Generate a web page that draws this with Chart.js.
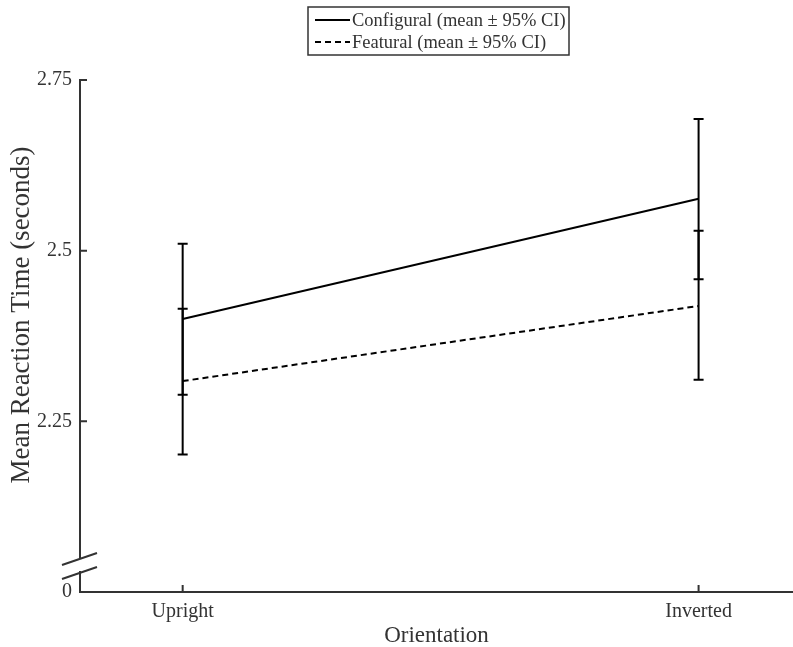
<!DOCTYPE html>
<html>

<head>
    <title>Reaction time by orientation</title>
    <script src="https://cdn.jsdelivr.net/npm/chart.js@4.4.1/dist/chart.umd.min.js"></script>
    <style>
        body { margin: 0; background: #fff; }
    </style>
</head>

<body>
    <canvas id="rt" width="793" height="647"></canvas>
    <script>

        // conditions along the x axis
        const orientations = ['Upright', 'Inverted'];
        const xPos = [1, 2];

        // mean reaction time (s) and 95% CI bounds
        const configuralMean = [2.400, 2.576];
        const configuralLow = [2.289, 2.458];
        const configuralHigh = [2.510, 2.693];

        const featuralMean = [2.309, 2.419];
        const featuralLow = [2.2015, 2.311];
        const featuralHigh = [2.415, 2.529];

        // axis is broken: the bottom value 2.0 stands for 0
        const yTicks = [2.0, 2.25, 2.5, 2.75];

        const ink = '#333';
        const serif = "'Liberation Serif', 'Times New Roman', serif";

        function points(means) {
            return means.map((m, i) => ({ x: xPos[i], y: m }));
        }

        const extras = {
            id: 'extras',
            afterDatasetsDraw(chart) {
                const ctx = chart.ctx;
                const xs = chart.scales.x, ys = chart.scales.y;
                const bars = [[configuralLow, configuralHigh], [featuralLow, featuralHigh]];
                ctx.save();
                ctx.strokeStyle = '#000';
                ctx.lineWidth = 2;
                bars.forEach(([lo, hi]) => {
                    xPos.forEach((xv, i) => {
                        const px = xs.getPixelForValue(xv);
                        const y1 = ys.getPixelForValue(lo[i]);
                        const y2 = ys.getPixelForValue(hi[i]);
                        ctx.beginPath();
                        ctx.moveTo(px, y1); ctx.lineTo(px, y2);
                        ctx.moveTo(px - 5, y1); ctx.lineTo(px + 5, y1);
                        ctx.moveTo(px - 5, y2); ctx.lineTo(px + 5, y2);
                        ctx.stroke();
                    });
                });
                ctx.restore();
            },
            afterDraw(chart) {
                const ctx = chart.ctx;
                const xs = chart.scales.x, ys = chart.scales.y;
                const area = chart.chartArea;
                ctx.save();
                ctx.strokeStyle = ink;
                ctx.lineWidth = 2;

                // inward tick marks
                ctx.beginPath();
                yTicks.slice(1).forEach(v => {
                    const py = ys.getPixelForValue(v);
                    ctx.moveTo(area.left, py); ctx.lineTo(area.left + 7, py);
                });
                xPos.forEach(v => {
                    const px = xs.getPixelForValue(v);
                    ctx.moveTo(px, area.bottom); ctx.lineTo(px, area.bottom - 7);
                });
                ctx.stroke();

                // axis break
                ctx.fillStyle = '#fff';
                ctx.fillRect(area.left - 2, area.bottom - 33, 4, 12);
                ctx.beginPath();
                ctx.moveTo(area.left - 18, area.bottom - 27); ctx.lineTo(area.left + 17, area.bottom - 39);
                ctx.moveTo(area.left - 18, area.bottom - 13); ctx.lineTo(area.left + 17, area.bottom - 25);
                ctx.stroke();

                // y axis title
                ctx.fillStyle = ink;
                ctx.font = '27px ' + serif;
                ctx.textAlign = 'center';
                ctx.textBaseline = 'middle';
                ctx.translate(22, 315);
                ctx.rotate(-Math.PI / 2);
                ctx.fillText('Mean Reaction Time (seconds)', 0, 0);
                ctx.restore();

                // legend box
                ctx.save();
                ctx.fillStyle = '#fff';
                ctx.fillRect(308, 7, 261, 48);
                ctx.strokeStyle = ink;
                ctx.lineWidth = 1.5;
                ctx.strokeRect(308, 7, 261, 48);
                const rows = [
                    { text: 'Configural (mean \u00b1 95% CI)', dash: [], y: 20 },
                    { text: 'Featural (mean \u00b1 95% CI)', dash: [6, 4], y: 42 }
                ];
                rows.forEach(r => {
                    ctx.strokeStyle = '#000';
                    ctx.lineWidth = 2;
                    ctx.setLineDash(r.dash);
                    ctx.beginPath();
                    ctx.moveTo(315, r.y); ctx.lineTo(350, r.y);
                    ctx.stroke();
                    ctx.setLineDash([]);
                    ctx.fillStyle = ink;
                    ctx.font = '18.5px ' + serif;
                    ctx.textAlign = 'left';
                    ctx.textBaseline = 'middle';
                    ctx.fillText(r.text, 352, r.y + 1);
                });
                ctx.restore();
            }
        };

        const ctxRt = document.getElementById('rt').getContext('2d');
        const rt = new Chart(ctxRt, {
            type: 'line',
            data: {
                datasets: [{
                    label: 'Configural (mean \u00b1 95% CI)',
                    data: points(configuralMean),
                    borderColor: '#000',
                    borderWidth: 2,
                    pointRadius: 0,
                    fill: false
                }, {
                    label: 'Featural (mean \u00b1 95% CI)',
                    data: points(featuralMean),
                    borderColor: '#000',
                    borderWidth: 2,
                    borderDash: [6, 4],
                    pointRadius: 0,
                    fill: false
                }]
            },
            options: {
                responsive: false,
                animation: false,
                events: [],
                layout: { padding: { top: 80, right: 0, bottom: 0, left: 0 } },
                plugins: {
                    legend: { display: false },
                    tooltip: { enabled: false }
                },
                scales: {
                    x: {
                        type: 'linear',
                        min: 0.801,
                        max: 2.183,
                        afterBuildTicks: s => { s.ticks = xPos.map(v => ({ value: v })); },
                        afterFit: s => { s.height = 55; },
                        grid: { display: false, drawTicks: false },
                        border: { display: true, color: ink, width: 2 },
                        ticks: {
                            padding: 8,
                            color: ink,
                            font: { family: serif, size: 20 },
                            callback: v => orientations[xPos.indexOf(v)]
                        },
                        title: {
                            display: true,
                            text: 'Orientation',
                            color: ink,
                            padding: 0,
                            font: { family: serif, size: 23, lineHeight: 1 }
                        }
                    },
                    y: {
                        type: 'linear',
                        min: 2.0,
                        max: 2.75,
                        afterBuildTicks: s => { s.ticks = yTicks.map(v => ({ value: v })); },
                        afterFit: s => { s.width = 80; },
                        grid: { display: false, drawTicks: false },
                        border: { display: true, color: ink, width: 2 },
                        ticks: {
                            padding: 8,
                            color: ink,
                            font: { family: serif, size: 20 },
                            callback: v => (v === 2 ? '0' : String(v))
                        }
                    }
                }
            },
            plugins: [extras]
        });
    </script>
</body>

</html>
